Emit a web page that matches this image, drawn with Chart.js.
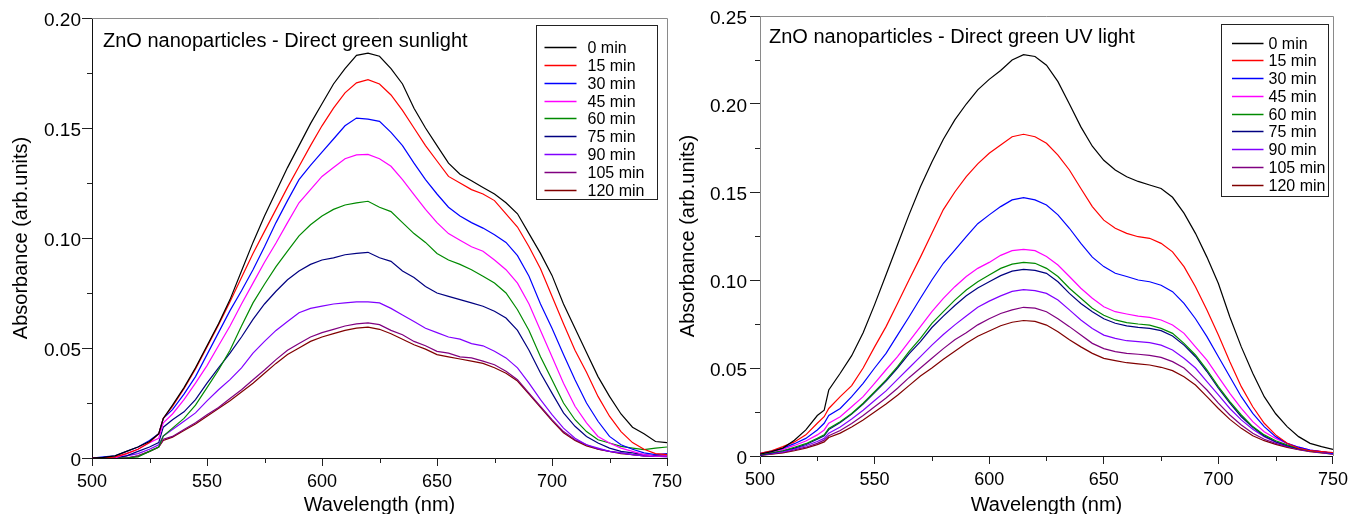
<!DOCTYPE html>
<html>
<head>
<meta charset="utf-8">
<script src="https://cdn.jsdelivr.net/npm/chart.js@4.4.1/dist/chart.umd.min.js"></script>
<style>
  html, body { margin: 0; padding: 0; background: #fff; }
  body { width: 1353px; height: 514px; position: relative; overflow: hidden; }
  #sunWrap { position: absolute; left: 0; top: 0; width: 690px; height: 514px; }
  #uvWrap { position: absolute; left: 672px; top: 0; width: 681px; height: 514px; }
</style>
</head>
<body>
<div id="sunWrap"><canvas id="sunChart" width="690" height="514"></canvas></div>
<div id="uvWrap"><canvas id="uvChart" width="681" height="514"></canvas></div>
<script>
const timeLabels = ['0 min', '15 min', '30 min', '45 min', '60 min', '75 min', '90 min', '105 min', '120 min'];
const xTickLabels = [500, 550, 600, 650, 700, 750];
const sunYTickLabels = [0, 0.05, 0.10, 0.15, 0.20];
const uvYTickLabels = [0, 0.05, 0.10, 0.15, 0.20, 0.25];

// left panel: direct green, sunlight
const sunWavelengths = [500, 505, 510, 515, 520, 525, 529, 531, 535, 540, 545, 550, 555, 560, 565, 570, 575, 580,
  585, 590, 595, 600, 605, 610, 615, 620, 625, 630, 635, 640, 645, 650, 655, 660, 665, 670,
  675, 680, 685, 690, 695, 700, 705, 710, 715, 720, 725, 730, 735, 740, 745, 750];
const sun0 = [0, 0.0003, 0.001, 0.003, 0.005, 0.0075, 0.011, 0.018,
  0.024, 0.032, 0.041, 0.051, 0.061, 0.072, 0.085, 0.098, 0.110, 0.121,
  0.132, 0.142, 0.152, 0.161, 0.170, 0.177, 0.183, 0.184,
  0.1826, 0.177, 0.170, 0.159, 0.150, 0.142, 0.134, 0.129, 0.126, 0.123,
  0.120, 0.116, 0.111, 0.102, 0.093, 0.083, 0.070, 0.059, 0.048, 0.037,
  0.028, 0.020, 0.014, 0.011, 0.0075, 0.007];
const sun15 = [0, 0, 0.0005, 0.002, 0.004, 0.007, 0.011, 0.018,
  0.0235, 0.0315, 0.0405, 0.0505, 0.0605, 0.071, 0.082, 0.093, 0.103, 0.113,
  0.123, 0.1325, 0.142, 0.151, 0.159, 0.166, 0.1705, 0.172,
  0.170, 0.165, 0.158, 0.150, 0.142, 0.135, 0.128, 0.125, 0.122, 0.120,
  0.117, 0.111, 0.105, 0.096, 0.086, 0.0735, 0.061, 0.049, 0.039, 0.028,
  0.019, 0.012, 0.007, 0.004, 0.002, 0.0015];
const sun30 = [0, 0.0005, 0.001, 0.003, 0.005, 0.008, 0.011, 0.018,
  0.022, 0.029, 0.037, 0.047, 0.057, 0.067, 0.076, 0.0856, 0.096, 0.107,
  0.117, 0.1265, 0.133, 0.139, 0.145, 0.151, 0.1545, 0.154,
  0.153, 0.148, 0.142, 0.134, 0.1265, 0.120, 0.114, 0.110, 0.107, 0.1045,
  0.1015, 0.098, 0.092, 0.0826, 0.070, 0.059, 0.047, 0.0356, 0.025, 0.0167,
  0.0098, 0.006, 0.004, 0.0023, 0.0015, 0.002];
const sun45 = [0, 0, 0, 0.002, 0.004, 0.007, 0.009, 0.016,
  0.020, 0.0265, 0.034, 0.042, 0.051, 0.060, 0.070, 0.0795, 0.089, 0.0977,
  0.107, 0.116, 0.122, 0.128, 0.132, 0.136, 0.1378, 0.138,
  0.136, 0.1326, 0.1265, 0.1197, 0.113, 0.107, 0.102, 0.099, 0.096, 0.094,
  0.090, 0.0856, 0.0795, 0.070, 0.058, 0.046, 0.034, 0.0235, 0.016, 0.0098,
  0.0068, 0.0045, 0.003, 0.0015, 0.0008, 0.001];
const sun60 = [0, 0, 0, 0, 0.0005, 0.003, 0.005, 0.010,
  0.0136, 0.018, 0.024, 0.032, 0.040, 0.049, 0.060, 0.0705, 0.079, 0.087,
  0.094, 0.101, 0.106, 0.110, 0.113, 0.115, 0.116, 0.1167,
  0.114, 0.112, 0.107, 0.102, 0.098, 0.093, 0.090, 0.088, 0.0856, 0.0826,
  0.0795, 0.075, 0.0674, 0.058, 0.046, 0.0356, 0.025, 0.0174, 0.012, 0.0083,
  0.0068, 0.0053, 0.0045, 0.0038, 0.0045, 0.005];
const sun75 = [0, 0, 0, 0.001, 0.003, 0.005, 0.007, 0.014,
  0.0174, 0.021, 0.0265, 0.034, 0.041, 0.0477, 0.055, 0.063, 0.070, 0.0758,
  0.081, 0.085, 0.088, 0.090, 0.091, 0.0924, 0.093, 0.0935,
  0.091, 0.0894, 0.085, 0.082, 0.078, 0.075, 0.0735, 0.072, 0.0705, 0.069,
  0.0667, 0.0636, 0.058, 0.049, 0.0386, 0.0295, 0.0205, 0.0144, 0.0098, 0.0068,
  0.0045, 0.003, 0.0023, 0.0015, 0.001, 0.001];
const sun90 = [0, 0, 0, 0.001, 0.002, 0.004, 0.006, 0.010,
  0.013, 0.0167, 0.0205, 0.026, 0.031, 0.0356, 0.041, 0.0477, 0.053, 0.058,
  0.062, 0.066, 0.068, 0.069, 0.070, 0.0705, 0.071, 0.071,
  0.0705, 0.068, 0.065, 0.062, 0.059, 0.057, 0.055, 0.054, 0.052, 0.051,
  0.0485, 0.0455, 0.041, 0.034, 0.0265, 0.0197, 0.0136, 0.009, 0.006, 0.0045,
  0.003, 0.0023, 0.0015, 0.001, 0.0008, 0.0005];
const sun105 = [0, 0, 0, 0, 0.001, 0.003, 0.005, 0.0085,
  0.0098, 0.013, 0.016, 0.0197, 0.023, 0.027, 0.031, 0.0356, 0.040, 0.0447,
  0.049, 0.052, 0.055, 0.057, 0.0585, 0.060, 0.061, 0.0614,
  0.0606, 0.058, 0.056, 0.053, 0.051, 0.0485, 0.0477, 0.046, 0.0455, 0.044,
  0.0424, 0.0394, 0.0356, 0.0295, 0.0235, 0.0174, 0.012, 0.0083, 0.006, 0.004,
  0.003, 0.0023, 0.0015, 0.001, 0.0008, 0.0008];
const sun120 = [0, 0, 0, 0, 0.001, 0.003, 0.005, 0.008,
  0.0095, 0.0125, 0.0155, 0.019, 0.0225, 0.026, 0.030, 0.034, 0.0385, 0.043,
  0.047, 0.050, 0.053, 0.055, 0.0565, 0.058, 0.059, 0.0595,
  0.0585, 0.0565, 0.054, 0.0515, 0.0495, 0.047, 0.046, 0.045, 0.044, 0.043,
  0.041, 0.0385, 0.035, 0.029, 0.023, 0.017, 0.0115, 0.008, 0.0055, 0.004,
  0.003, 0.002, 0.0015, 0.001, 0.0008, 0.0008];

// right panel: direct green, UV light
const uvWavelengths = [500, 505, 510, 515, 520, 525, 528, 530, 535, 540, 545, 550, 555, 560, 565, 570, 575, 580,
  585, 590, 595, 600, 605, 610, 615, 620, 625, 630, 635, 640, 645, 650, 655, 660, 665, 670,
  675, 680, 685, 690, 695, 700, 705, 710, 715, 720, 725, 730, 735, 740, 745, 750];
const uv0 = [0.001, 0.0025, 0.0045, 0.009, 0.0148, 0.023, 0.026, 0.0375,
  0.047, 0.057, 0.070, 0.086, 0.103, 0.120, 0.137, 0.153, 0.167, 0.180,
  0.191, 0.200, 0.208, 0.214, 0.219, 0.225, 0.228, 0.227,
  0.222, 0.2127, 0.200, 0.187, 0.176, 0.168, 0.1625, 0.1587, 0.156, 0.154,
  0.152, 0.147, 0.138, 0.1265, 0.113, 0.098, 0.079, 0.062, 0.047, 0.0337,
  0.024, 0.0167, 0.011, 0.0072, 0.0053, 0.0038];
const uv15 = [0.0015, 0.003, 0.0053, 0.008, 0.012, 0.0186, 0.0223, 0.027,
  0.0337, 0.040, 0.050, 0.062, 0.0735, 0.0867, 0.100, 0.113, 0.1265, 0.140,
  0.150, 0.1587, 0.166, 0.172, 0.1767, 0.1814, 0.1828, 0.1814,
  0.1777, 0.171, 0.1625, 0.152, 0.1417, 0.134, 0.1294, 0.1265, 0.1246, 0.1237,
  0.1208, 0.116, 0.1076, 0.0962, 0.083, 0.0687, 0.0536, 0.0394, 0.028, 0.0186,
  0.012, 0.0072, 0.0044, 0.003, 0.0025, 0.002];
const uv30 = [0.0015, 0.0028, 0.0045, 0.007, 0.010, 0.0148, 0.0186, 0.023,
  0.027, 0.0337, 0.0413, 0.050, 0.0583, 0.0687, 0.079, 0.0896, 0.100, 0.1095,
  0.117, 0.1246, 0.132, 0.137, 0.1417, 0.1455, 0.1468, 0.1455,
  0.1426, 0.137, 0.1294, 0.1208, 0.113, 0.1076, 0.1038, 0.102, 0.100, 0.099,
  0.097, 0.0934, 0.0867, 0.078, 0.0678, 0.0564, 0.045, 0.0337, 0.0242, 0.0167,
  0.011, 0.0072, 0.005, 0.0034, 0.0025, 0.0015];
const uv45 = [0.001, 0.0025, 0.0038, 0.006, 0.0085, 0.012, 0.0148, 0.0186,
  0.0223, 0.028, 0.0337, 0.0413, 0.049, 0.0564, 0.065, 0.0735, 0.082, 0.0896,
  0.0962, 0.102, 0.1066, 0.110, 0.114, 0.1167, 0.1174, 0.1167,
  0.1133, 0.1085, 0.102, 0.0953, 0.0896, 0.0848, 0.082, 0.0807, 0.0795, 0.0788,
  0.0773, 0.0744, 0.0697, 0.062, 0.0545, 0.045, 0.0356, 0.027, 0.0195, 0.0138,
  0.010, 0.0072, 0.005, 0.0034, 0.0025, 0.0015];
const uv60 = [0.0008, 0.002, 0.003, 0.005, 0.007, 0.010, 0.012, 0.0157,
  0.0195, 0.0242, 0.030, 0.0365, 0.0432, 0.0508, 0.0593, 0.0668, 0.0754, 0.082,
  0.0886, 0.0943, 0.099, 0.1028, 0.1066, 0.109, 0.110, 0.1095,
  0.1066, 0.102, 0.0953, 0.0896, 0.084, 0.080, 0.0773, 0.0758, 0.075, 0.0744,
  0.0725, 0.0697, 0.064, 0.0574, 0.049, 0.0394, 0.0309, 0.0233, 0.0167, 0.012,
  0.0087, 0.0063, 0.0044, 0.003, 0.0023, 0.0015];
const uv75 = [0.0005, 0.0018, 0.003, 0.0045, 0.0065, 0.0095, 0.0115, 0.015,
  0.019, 0.0238, 0.0295, 0.036, 0.0425, 0.050, 0.058, 0.065, 0.073, 0.0795,
  0.0855, 0.091, 0.0955, 0.099, 0.1025, 0.105, 0.106, 0.1055,
  0.1038, 0.099, 0.0924, 0.0867, 0.082, 0.078, 0.0754, 0.0739, 0.0731, 0.0725,
  0.0712, 0.0682, 0.063, 0.0564, 0.048, 0.0385, 0.030, 0.0223, 0.0163, 0.0114,
  0.0081, 0.0059, 0.0042, 0.003, 0.0023, 0.0015];
const uv90 = [0.0005, 0.0015, 0.0025, 0.004, 0.0058, 0.0082, 0.010, 0.013,
  0.0165, 0.021, 0.026, 0.0315, 0.037, 0.0435, 0.050, 0.0565, 0.063, 0.069,
  0.0745, 0.0795, 0.0845, 0.088, 0.091, 0.0935, 0.0945, 0.094,
  0.0924, 0.0886, 0.083, 0.0773, 0.0725, 0.0687, 0.0668, 0.0655, 0.065, 0.0644,
  0.063, 0.0602, 0.0555, 0.050, 0.0422, 0.0347, 0.027, 0.0205, 0.0152, 0.011,
  0.0078, 0.0057, 0.004, 0.0028, 0.002, 0.0013];
const uv105 = [0.0005, 0.0012, 0.002, 0.0035, 0.005, 0.0072, 0.009, 0.0115,
  0.0145, 0.0185, 0.023, 0.028, 0.033, 0.0385, 0.0445, 0.050, 0.0555, 0.061,
  0.066, 0.070, 0.0745, 0.078, 0.081, 0.083, 0.0845, 0.084,
  0.082, 0.078, 0.0735, 0.0687, 0.064, 0.061, 0.0593, 0.0583, 0.0578, 0.0572,
  0.056, 0.0536, 0.050, 0.044, 0.0375, 0.030, 0.0233, 0.0176, 0.0129, 0.0095,
  0.0072, 0.0053, 0.0038, 0.0027, 0.0019, 0.0011];
const uv120 = [0.0003, 0.001, 0.0018, 0.003, 0.0045, 0.0065, 0.008, 0.0105,
  0.013, 0.0165, 0.0205, 0.025, 0.0295, 0.0345, 0.040, 0.0455, 0.050, 0.055,
  0.0595, 0.064, 0.068, 0.071, 0.074, 0.076, 0.077, 0.0765,
  0.0744, 0.0706, 0.066, 0.062, 0.0583, 0.0555, 0.0542, 0.053, 0.0523, 0.0517,
  0.0504, 0.0485, 0.045, 0.0403, 0.0337, 0.027, 0.0208, 0.0157, 0.0115, 0.0087,
  0.0066, 0.0049, 0.0036, 0.0025, 0.0017, 0.001];

const lineColors = ['#000000', '#ff0000', '#0000ff', '#ff00ff', '#008a00', '#000080', '#8000ff', '#800080', '#800000'];
const FONT = '"Liberation Sans", Arial, Helvetica, sans-serif';
const MINOR_TICK = 5;

// ticks without a label are the minor ones: Chart.js draws them invisible, we draw them short
const isMajor = c => c.tick && c.tick.label !== '';

// top/right frame, minor ticks, heading text and the boxed legend inside the plot
const panelDecor = {
  id: 'panelDecor',
  afterDraw(chart, args, opts) {
    const { ctx, chartArea: a } = chart;
    const xs = chart.scales.x, ys = chart.scales.y;
    ctx.save();
    ctx.lineWidth = 1;
    ctx.strokeStyle = opts.frameColor;
    ctx.beginPath();
    ctx.moveTo(a.left, Math.round(a.top) + 0.5);
    ctx.lineTo(Math.round(a.right) + 0.5, Math.round(a.top) + 0.5);
    ctx.lineTo(Math.round(a.right) + 0.5, a.bottom);
    ctx.stroke();

    ctx.strokeStyle = '#222';
    ctx.beginPath();
    xs.ticks.forEach(t => {
      if (t.label !== '') return;
      const px = Math.round(xs.getPixelForValue(t.value)) + 0.5;
      ctx.moveTo(px, a.bottom);
      ctx.lineTo(px, a.bottom + MINOR_TICK);
    });
    ys.ticks.forEach(t => {
      if (t.label !== '') return;
      const py = Math.round(ys.getPixelForValue(t.value)) + 0.5;
      ctx.moveTo(a.left, py);
      ctx.lineTo(a.left - MINOR_TICK, py);
    });
    ctx.stroke();

    ctx.fillStyle = '#000';
    ctx.font = '20px ' + FONT;
    ctx.textBaseline = 'alphabetic';
    ctx.textAlign = 'left';
    ctx.fillText(opts.heading, a.left + opts.headingDx, a.top + opts.headingDy);

    const L = opts.legend;
    const bx = Math.round(a.right - L.right - L.width) + 0.5;
    const by = Math.round(a.top + L.top) + 0.5;
    ctx.strokeStyle = '#222';
    ctx.strokeRect(bx, by, L.width, L.height);
    ctx.font = '16px ' + FONT;
    ctx.textBaseline = 'middle';
    chart.data.datasets.forEach((ds, i) => {
      const yy = Math.round(by + L.first + i * L.step) + 0.5;
      ctx.strokeStyle = ds.borderColor;
      ctx.lineWidth = 1.5;
      ctx.beginPath();
      ctx.moveTo(bx + L.line0, yy);
      ctx.lineTo(bx + L.line1, yy);
      ctx.stroke();
      ctx.fillStyle = '#000';
      ctx.fillText(ds.label, bx + L.text, yy + 1);
    });
    ctx.restore();
  }
};

function makeChart(id, xs, series, yMax, yLabels, cfg) {
  const datasets = series.map((ys, i) => ({
    label: timeLabels[i],
    data: xs.map((x, j) => ({ x: x, y: ys[j] })),
    borderColor: lineColors[i],
    borderWidth: 1.2,
    pointRadius: 0,
    tension: 0,
    fill: false
  }));
  return new Chart(document.getElementById(id), {
    type: 'line',
    data: { datasets: datasets },
    plugins: [panelDecor],
    options: {
      responsive: false,
      devicePixelRatio: 1,
      animation: false,
      layout: { padding: { left: 0, top: cfg.top, right: cfg.right, bottom: 0 } },
      plugins: {
        legend: { display: false },
        tooltip: { enabled: false },
        panelDecor: {
          frameColor: '#8a8a8a',
          heading: cfg.heading,
          headingDx: cfg.headingDx,
          headingDy: cfg.headingDy,
          legend: cfg.legend
        }
      },
      scales: {
        x: {
          type: 'linear',
          min: 500,
          max: 750,
          afterFit: s => { s.height = cfg.xHeight; },
          border: { display: true, color: '#111', width: 1 },
          grid: {
            drawOnChartArea: false, drawTicks: true, tickLength: 8,
            tickColor: c => isMajor(c) ? '#222' : 'rgba(0,0,0,0)'
          },
          ticks: {
            stepSize: 25,
            autoSkip: false,
            maxRotation: 0,
            padding: 5,
            color: '#000',
            font: { family: FONT, size: 18 },
            callback: v => xTickLabels.includes(v) ? String(v) : ''
          },
          title: {
            display: true,
            text: 'Wavelength (nm)',
            color: '#000',
            font: { family: FONT, size: 20 },
            padding: { top: 0, bottom: -3 }
          }
        },
        y: {
          min: 0,
          max: yMax,
          afterFit: s => { s.width = cfg.yWidth; },
          border: { display: true, color: cfg.yAxisColor, width: 1 },
          grid: {
            drawOnChartArea: false, drawTicks: true, tickLength: 10,
            tickColor: c => isMajor(c) ? '#222' : 'rgba(0,0,0,0)'
          },
          ticks: {
            stepSize: 0.025,
            autoSkip: false,
            padding: cfg.yTickPad,
            labelOffset: 3,
            color: '#000',
            font: { family: FONT, size: 19 },
            callback: v => {
              const hit = yLabels.find(t => Math.abs(t - v) < 1e-6);
              if (hit === undefined) return '';
              return hit === 0 ? '0' : hit.toFixed(2);
            }
          },
          title: {
            display: true,
            text: 'Absorbance (arb.units)',
            color: '#000',
            font: { family: FONT, size: 20 },
            padding: { top: cfg.yTitlePad, bottom: 0 }
          }
        }
      }
    }
  });
}

makeChart('sunChart', sunWavelengths,
  [sun0, sun15, sun30, sun45, sun60, sun75, sun90, sun105, sun120],
  0.20, sunYTickLabels, {
    top: 18, right: 23, xHeight: 56, yWidth: 92, yAxisColor: '#111', yTitlePad: 9, yTickPad: 1,
    heading: 'ZnO nanoparticles - Direct green sunlight', headingDx: 11, headingDy: 29,
    legend: { right: 10, top: 7, width: 121, height: 174, first: 21.7, step: 17.8, line0: 8, line1: 40, text: 51 }
  });

makeChart('uvChart', uvWavelengths,
  [uv0, uv15, uv30, uv45, uv60, uv75, uv90, uv105, uv120],
  0.25, uvYTickLabels, {
    top: 16, right: 18, xHeight: 58, yWidth: 88, yAxisColor: '#8a8a8a', yTitlePad: 4, yTickPad: 3,
    heading: 'ZnO nanoparticles - Direct green UV light', headingDx: 9, headingDy: 27,
    legend: { right: 5, top: 8, width: 107, height: 172, first: 18, step: 17.75, line0: 10.5, line1: 42, text: 47 }
  });
</script>
</body>
</html>
